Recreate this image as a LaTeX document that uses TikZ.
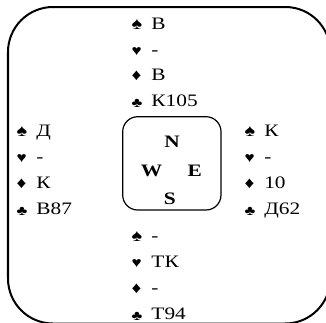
\documentclass[tikz,border=0pt]{standalone}
\usepackage{fontspec}
\setmainfont[FakeStretch=1.22]{Liberation Serif}
\newfontfamily\suitfont[FakeStretch=1.2]{Liberation Serif}
\newcommand\suitS{{\suitfont\fontsize{16.7bp}{20bp}\selectfont ♠}}
\newcommand\suitH{{\suitfont\fontsize{14.2bp}{20bp}\selectfont ♥}}
\newcommand\suitD{{\suitfont\fontsize{16bp}{20bp}\selectfont ♦}}
\newcommand\suitC{{\suitfont\fontsize{13.7bp}{20bp}\selectfont\raisebox{-1.2bp}{♣}}}
\newcommand\hl[2]{\makebox[19.8bp][l]{#1}#2}
\tikzset{
  hand/.style={anchor=base west, inner sep=0pt, font=\fontsize{17.5bp}{20bp}\selectfont},
  seat/.style={anchor=base, inner sep=0pt, font=\fontsize{17.5bp}{20bp}\selectfont\bfseries},
  tablebox/.style={draw, line width=1.2bp, rounded corners=15bp, inner sep=0pt},
}
\begin{document}
\begin{tikzpicture}[x=1bp,y=-1bp]
\useasboundingbox (0,0) rectangle (326,323);
\begin{scope}
  \clip (0,0) rectangle (326,323);
  \draw[line width=2bp, rounded corners=45bp] (8,7) rectangle (330.3,323.5);
\end{scope}
\node[tablebox, minimum width=98.3bp, minimum height=93.3bp] (table) at (171.85,163.35) {};
% seats
\node[seat] (sN) at (172,147.3) {N};
\node[seat] (sW) at (151.5,176) {W};
\node[seat] (sE) at (194.7,176) {E};
\node[seat] (sS) at (169.7,204) {S};
% North
\node[hand] (n1) at (131.5,29.3) {\hl{\suitS}{В}};
\node[hand] (n2) at (131.5,55.1) {\hl{\suitH}{-}};
\node[hand] (n3) at (131.5,80.9) {\hl{\suitD}{В}};
\node[hand] (n4) at (131.5,106.7) {\hl{\suitC}{К105}};
% West
\node[hand] (w1) at (16.5,136) {\hl{\suitS}{Д}};
\node[hand] (w2) at (16.5,162) {\hl{\suitH}{-}};
\node[hand] (w3) at (16.5,188) {\hl{\suitD}{К}};
\node[hand] (w4) at (16.5,214) {\hl{\suitC}{В87}};
% East
\node[hand] (e1) at (244.3,136) {\hl{\suitS}{К}};
\node[hand] (e2) at (244.3,162) {\hl{\suitH}{-}};
\node[hand] (e3) at (244.3,188) {\hl{\suitD}{10}};
\node[hand] (e4) at (244.3,214) {\hl{\suitC}{Д62}};
% South
\node[hand] (s1) at (131.5,241.9) {\hl{\suitS}{-}};
\node[hand] (s2) at (131.5,267.7) {\hl{\suitH}{ТК}};
\node[hand] (s3) at (131.5,293.5) {\hl{\suitD}{-}};
\node[hand] (s4) at (131.5,319.3) {\hl{\suitC}{Т94}};
\end{tikzpicture}
\end{document}
